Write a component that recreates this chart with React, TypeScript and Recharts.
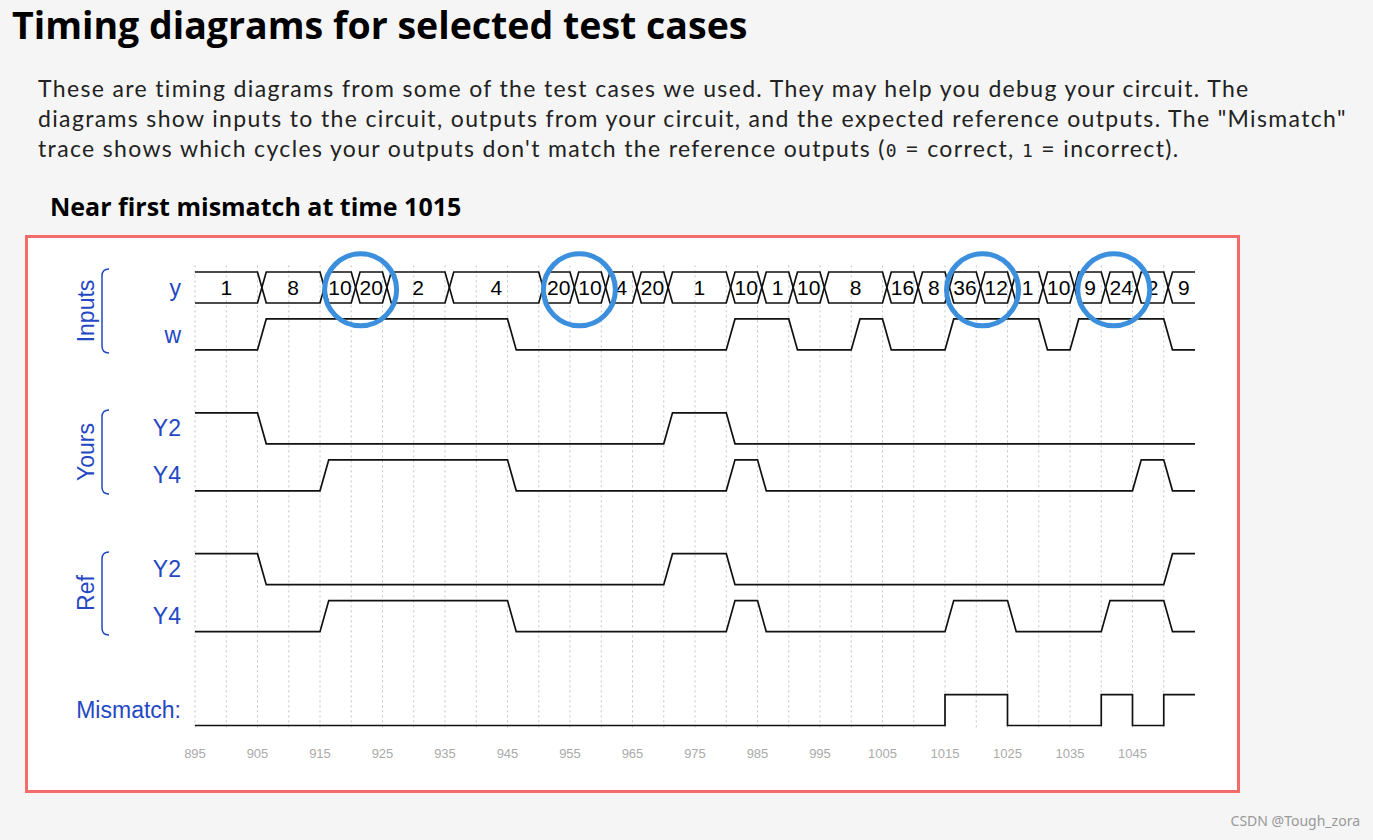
import React from "react";
import { ComposedChart, Line, Scatter, XAxis, YAxis, ReferenceLine } from "recharts";

// time window shown
const T_START = 895;
const T_END = 1055;
const EDGE = 1.4; // slope of a transition, in time units
const HIGH = 0.66; // signal height, in lanes

const X_TICKS = [895, 905, 915, 925, 935, 945, 955, 965, 975, 985, 995, 1005, 1015, 1025, 1035, 1045];

// bus y
const Y_TIMES = [895, 905, 915, 920, 925, 935, 950, 955, 960, 965, 970, 980, 985, 990, 995, 1005, 1010, 1015, 1020, 1025, 1030, 1035, 1040, 1045, 1050];
const Y_VALUES = ["1", "8", "10", "20", "2", "4", "20", "10", "4", "20", "1", "10", "1", "10", "8", "16", "8", "36", "12", "1", "10", "9", "24", "2", "9"];

// single-bit signals: change times and levels
const W_TIMES = [895, 905, 945, 980, 990, 1000, 1005, 1015, 1030, 1035, 1050];
const W_LEVELS = [0, 1, 0, 1, 0, 1, 0, 1, 0, 1, 0];
const YOURS_Y2_TIMES = [895, 905, 970, 980];
const YOURS_Y2_LEVELS = [1, 0, 1, 0];
const YOURS_Y4_TIMES = [895, 915, 945, 980, 985, 1045, 1050];
const YOURS_Y4_LEVELS = [0, 1, 0, 1, 0, 1, 0];
const REF_Y2_TIMES = [895, 905, 970, 980, 1050];
const REF_Y2_LEVELS = [1, 0, 1, 0, 1];
const REF_Y4_TIMES = [895, 915, 945, 980, 985, 1015, 1025, 1040, 1050];
const REF_Y4_LEVELS = [0, 1, 0, 1, 0, 1, 0, 1, 0];
const MISMATCH_TIMES = [895, 1015, 1025, 1040, 1045, 1050];
const MISMATCH_LEVELS = [0, 1, 0, 1, 0, 1];

const ROW_NAMES = ["y", "w", "Y2", "Y4", "Y2", "Y4", "Mismatch:"];
const ROW_LANES = [0, 1, 3, 4, 6, 7, 9];

// hand-drawn circles in the screenshot
const CIRCLE_TIMES = [921.5, 956.5, 1021, 1042];

const BLUE = "#2448c4";
const FONT = "'Liberation Sans', Arial, sans-serif";

const levelY = (lane: number, level: number) => lane + (1 - level) * HIGH;

function digital(times: number[], levels: number[], lane: number, edge = EDGE) {
  const pts = [{ t: times[0], v: levelY(lane, levels[0]) }];
  for (let i = 1; i < times.length; i++) {
    pts.push({ t: times[i], v: levelY(lane, levels[i - 1]) });
    pts.push({ t: times[i] + edge, v: levelY(lane, levels[i]) });
  }
  pts.push({ t: T_END, v: levelY(lane, levels[levels.length - 1]) });
  return pts;
}

function busEdge(times: number[], startHigh: boolean, lane: number) {
  let hi = startHigh;
  const pts = [{ t: times[0], v: levelY(lane, hi ? 1 : 0) }];
  for (let i = 1; i < times.length; i++) {
    pts.push({ t: times[i], v: levelY(lane, hi ? 1 : 0) });
    hi = !hi;
    pts.push({ t: times[i] + EDGE, v: levelY(lane, hi ? 1 : 0) });
  }
  pts.push({ t: T_END, v: levelY(lane, hi ? 1 : 0) });
  return pts;
}

const busLabels = Y_VALUES.map((label, i) => {
  const from = Y_TIMES[i] + (i > 0 ? EDGE : 0);
  const to = i < Y_TIMES.length - 1 ? Y_TIMES[i + 1] : T_END;
  return { t: (from + to) / 2, v: HIGH / 2, label };
});

const circles = CIRCLE_TIMES.map((t) => ({ t, v: 0.38 }));

const gridTimes = Array.from({ length: 32 }, (_, i) => T_START + i * 5);

const series = [
  busEdge(Y_TIMES, true, 0),
  busEdge(Y_TIMES, false, 0),
  digital(W_TIMES, W_LEVELS, 1),
  digital(YOURS_Y2_TIMES, YOURS_Y2_LEVELS, 3),
  digital(YOURS_Y4_TIMES, YOURS_Y4_LEVELS, 4),
  digital(REF_Y2_TIMES, REF_Y2_LEVELS, 6),
  digital(REF_Y4_TIMES, REF_Y4_LEVELS, 7),
  digital(MISMATCH_TIMES, MISMATCH_LEVELS, 9, 0),
];

function BusText(props: any) {
  const { cx, cy, payload } = props;
  return (
    <text x={cx} y={cy} textAnchor="middle" dominantBaseline="central" fontSize={21} fontFamily={FONT} fill="#000">
      {payload.label}
    </text>
  );
}

function Ring(props: any) {
  const { cx, cy } = props;
  return <ellipse cx={cx} cy={cy} rx={36} ry={36} fill="none" stroke="#3b8fdd" strokeWidth={5} />;
}

function Brace({ y1, y2 }: { y1: number; y2: number }) {
  return (
    <path
      d={`M109 ${y1} Q102 ${y1} 102 ${y1 + 7} L102 ${y2 - 7} Q102 ${y2} 109 ${y2}`}
      fill="none"
      stroke={BLUE}
      strokeWidth={1.5}
    />
  );
}

function TimingChart() {
  return (
    <ComposedChart width={1209} height={552} margin={{ top: 24.6, right: 42, bottom: 32.6, left: 0 }}>
      <XAxis
        type="number"
        dataKey="t"
        domain={[T_START, T_END]}
        ticks={X_TICKS}
        allowDataOverflow
        axisLine={false}
        tickLine={false}
        tickSize={0}
        tickMargin={21}
        height={30}
        tick={{ fontSize: 13, fill: "#aaa", fontFamily: FONT }}
      />
      <YAxis
        type="number"
        domain={[-0.2, 9.7]}
        reversed
        width={167}
        ticks={ROW_LANES.map((l) => l + HIGH / 2)}
        tickFormatter={(_v: number, i: number) => ROW_NAMES[i]}
        axisLine={false}
        tickLine={false}
        tickSize={0}
        tickMargin={14}
        tick={{ fontSize: 23, fill: BLUE, fontFamily: FONT }}
      />
      {gridTimes.map((t) => (
        <ReferenceLine key={t} x={t} stroke="#c4c4c4" strokeDasharray="2 3" strokeWidth={1} />
      ))}
      {series.map((d, i) => (
        <Line
          key={i}
          data={d}
          dataKey="v"
          type="linear"
          stroke="#111"
          strokeWidth={1.7}
          dot={false}
          activeDot={false}
          isAnimationActive={false}
        />
      ))}
      <Scatter data={busLabels} dataKey="v" shape={<BusText />} isAnimationActive={false} />
      <Scatter data={circles} dataKey="v" shape={<Ring />} isAnimationActive={false} />
    </ComposedChart>
  );
}

const codeStyle = { fontFamily: "'DejaVu Sans Mono', monospace", fontSize: 18 };

export default function App() {
  return (
    <div style={{ position: "absolute", left: 0, top: 0, width: 1373, height: 840, background: "#f5f5f5", overflow: "hidden" }}>
      <div style={{ position: "absolute", left: 12, top: 3, fontFamily: "'Open Sans', sans-serif", fontWeight: 700, fontSize: 37.5, lineHeight: "44px", color: "#000", whiteSpace: "nowrap", letterSpacing: 0 }}>
        Timing diagrams for selected test cases
      </div>
      <div style={{ position: "absolute", left: 38, top: 73, fontFamily: "Lato, sans-serif", fontSize: 23, lineHeight: "30px", color: "#222", whiteSpace: "nowrap", letterSpacing: 1.35 }}>
        <div>These are timing diagrams from some of the test cases we used. They may help you debug your circuit. The</div>
        <div>diagrams show inputs to the circuit, outputs from your circuit, and the expected reference outputs. The "Mismatch"</div>
        <div>
          trace shows which cycles your outputs don't match the reference outputs (<code style={codeStyle}>0</code> = correct,{" "}
          <code style={codeStyle}>1</code> = incorrect).
        </div>
      </div>
      <div style={{ position: "absolute", left: 50, top: 191, fontFamily: "'Open Sans', sans-serif", fontWeight: 700, fontSize: 25, lineHeight: "30px", color: "#000", whiteSpace: "nowrap" }}>
        Near first mismatch at time 1015
      </div>
      <div style={{ position: "absolute", left: 25, top: 235, width: 1215, height: 558, border: "3px solid #f46b6b", background: "#fff", boxSizing: "border-box" }} />
      <div style={{ position: "absolute", left: 28, top: 238 }}>
        <TimingChart />
      </div>
      <svg width={1373} height={840} style={{ position: "absolute", left: 0, top: 0, pointerEvents: "none" }}>
        <Brace y1={269} y2={353} />
        <Brace y1={410} y2={494} />
        <Brace y1={552} y2={635} />
        {[
          ["Inputs", 311],
          ["Yours", 452],
          ["Ref", 593],
        ].map(([label, cy]) => (
          <text
            key={label as string}
            x={86}
            y={cy as number}
            transform={`rotate(-90 86 ${cy})`}
            textAnchor="middle"
            dominantBaseline="central"
            fontSize={23}
            fontFamily={FONT}
            fill={BLUE}
          >
            {label}
          </text>
        ))}
      </svg>
      <div style={{ position: "absolute", right: 13, top: 811, fontFamily: "'Noto Sans', sans-serif", fontSize: 14, color: "#999" }}>
        CSDN @Tough_zora
      </div>
    </div>
  );
}
